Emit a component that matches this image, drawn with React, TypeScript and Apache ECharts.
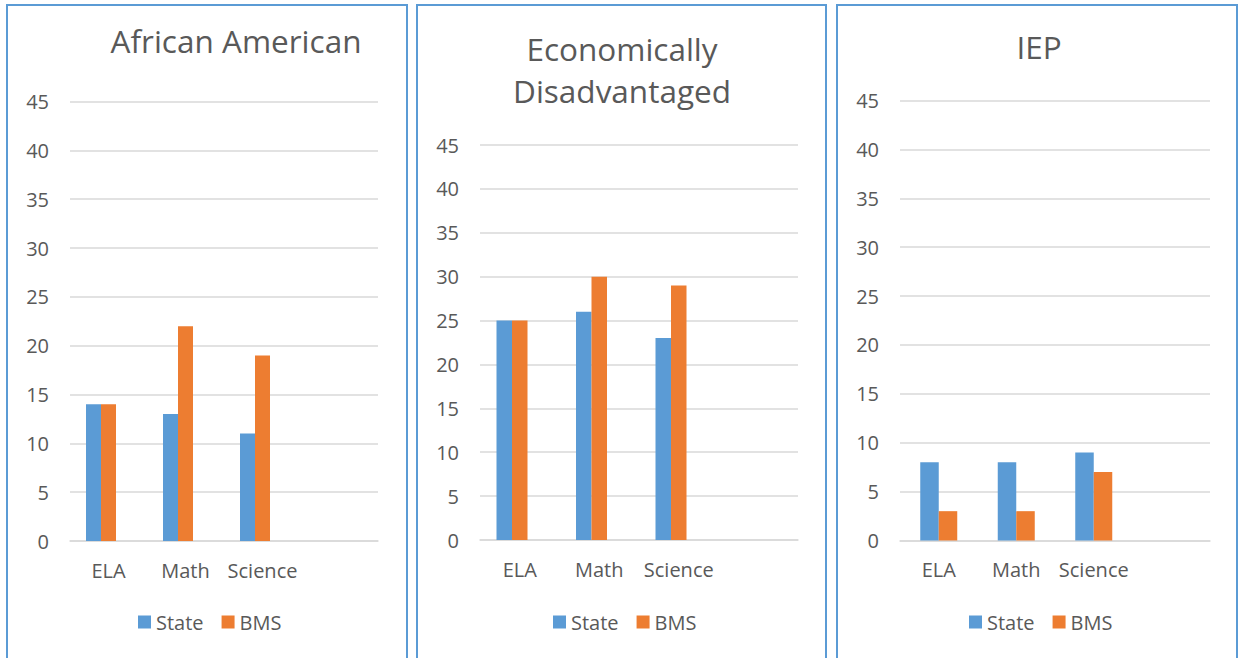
import React, { useEffect, useRef } from "react";
import * as echarts from "echarts";

const categories = ["ELA", "Math", "Science", ""];
const yTicks = { min: 0, max: 45, interval: 5 };
const seriesNames = ["State", "BMS"];

const titles = ["African American", "Economically\nDisadvantaged", "IEP"];

const africanAmericanState = [14, 13, 11];
const africanAmericanBMS = [14, 22, 19];
const econDisState = [25, 26, 23];
const econDisBMS = [25, 30, 29];
const iepState = [8, 8, 9];
const iepBMS = [3, 3, 7];

const panelData = [
  [africanAmericanState, africanAmericanBMS],
  [econDisState, econDisBMS],
  [iepState, iepBMS],
];

const BLUE = "#5B9BD5";
const ORANGE = "#ED7D31";
const GRID = "#d9d9d9";
const TEXT = "#595959";
const FONT = "'Open Sans', sans-serif";

// layout per panel
const panels = [
  { box: [7, 5, 400], grid: { left: 70, top: 101.5, width: 308, height: 439.5 }, bw: 15, extra: true, titleX: 236, titleTop: 19, legendLeft: 138 },
  { box: [417, 5, 409], grid: { left: 480, top: 145, width: 318, height: 395 }, bw: 15.5, extra: true, titleX: 622, titleTop: 27, legendLeft: 553 },
  { box: [837, 5, 400], grid: { left: 900, top: 100.5, width: 310, height: 440 }, bw: 18.5, extra: false, titleX: 1039, titleTop: 25, legendLeft: 969 },
];

export default function App() {
  const ref = useRef<HTMLDivElement>(null);
  useEffect(() => {
    if (!ref.current) return;
    const chart = echarts.init(ref.current, null, { renderer: "svg" });

    const grid: any[] = [];
    const xAxis: any[] = [];
    const yAxis: any[] = [];
    const series: any[] = [];
    const title: any[] = [];
    const legend: any[] = [];
    const graphic: any[] = [];

    panels.forEach((p, i) => {
      graphic.push({
        type: "rect",
        shape: { x: p.box[0], y: p.box[1], width: p.box[2], height: 700 },
        style: { fill: "none", stroke: BLUE, lineWidth: 2 },
        silent: true,
        z: -1,
      });
      grid.push({ ...p.grid, containLabel: false });
      xAxis.push({
        type: "category",
        gridIndex: i,
        data: categories,
        axisLine: { show: true, lineStyle: { color: GRID, width: 1.5 } },
        axisTick: { show: false },
        axisLabel: { color: TEXT, fontSize: 20, fontFamily: FONT, margin: 19, interval: 0 },
      });
      yAxis.push({
        type: "value",
        gridIndex: i,
        min: yTicks.min,
        max: yTicks.max,
        interval: yTicks.interval,
        axisLine: { show: false },
        axisTick: { show: false },
        splitLine: { show: true, lineStyle: { color: GRID, width: 1.5 } },
        axisLabel: { color: TEXT, fontSize: 20, fontFamily: FONT, margin: 21 },
      });
      const [st, bms] = panelData[i];
      series.push({
        type: "bar",
        name: seriesNames[0],
        xAxisIndex: i,
        yAxisIndex: i,
        data: st,
        barWidth: p.bw,
        barGap: "0%",
        itemStyle: { color: BLUE },
      });
      series.push({
        type: "bar",
        name: seriesNames[1],
        xAxisIndex: i,
        yAxisIndex: i,
        data: bms,
        barWidth: p.bw,
        barGap: "0%",
        itemStyle: { color: ORANGE },
      });
      if (p.extra) {
        series.push({
          type: "bar",
          name: "Series3",
          xAxisIndex: i,
          yAxisIndex: i,
          data: ["-", "-", "-"],
          barWidth: p.bw,
          barGap: "0%",
          itemStyle: { color: "#A5A5A5" },
        });
      }
      title.push({
        text: titles[i],
        left: p.titleX,
        top: p.titleTop,
        textAlign: "center",
        padding: 0,
        textStyle: {
          color: TEXT,
          fontSize: 31.5,
          fontWeight: "normal",
          fontFamily: FONT,
          lineHeight: 42,
        },
      });
      legend.push({
        data: seriesNames,
        left: p.legendLeft,
        top: 612,
        padding: 0,
        icon: "rect",
        itemWidth: 13,
        itemHeight: 13,
        itemGap: 18,
        selectedMode: false,
        textStyle: { color: TEXT, fontSize: 20, fontFamily: FONT },
      });
    });

    chart.setOption({
      animation: false,
      backgroundColor: "#ffffff",
      title,
      legend,
      grid,
      xAxis,
      yAxis,
      series,
      graphic,
    });
    return () => chart.dispose();
  }, []);

  return (
    <div
      ref={ref}
      style={{ position: "absolute", left: 0, top: 0, width: 1239, height: 658 }}
    />
  );
}
